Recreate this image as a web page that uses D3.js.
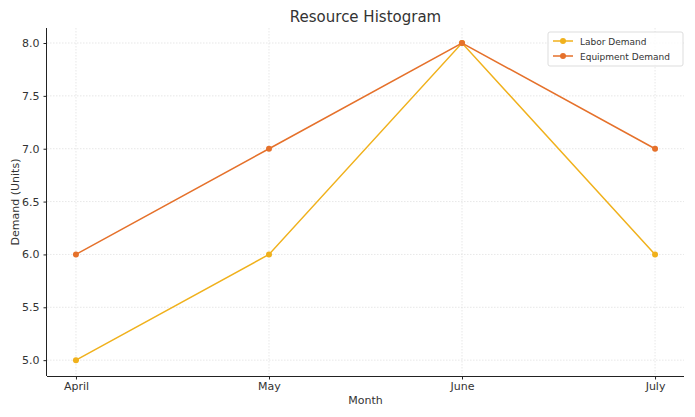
<!DOCTYPE html>
<html><head><meta charset="utf-8">
<script src="https://cdn.jsdelivr.net/npm/d3@7"></script>
<style>body{margin:0;background:#fff;font-family:"DejaVu Sans",sans-serif;}</style>
</head><body><svg id="c" width="695" height="417"></svg>
<script>
const months = ["April","May","June","July"];
const laborDemand = [5,6,8,6];
const equipmentDemand = [6,7,8,7];
const yTicks = [5.0,5.5,6.0,6.5,7.0,7.5,8.0];
const seriesNames = ["Labor Demand","Equipment Demand"];
const colors = ["#f0b11c","#e5712b"];

const svg = d3.select("#c");
const L=47,R=684,T=28,B=376;
const x = d3.scaleLinear().domain([-0.15,3.15]).range([L,R]);
const y = d3.scaleLinear().domain([4.85,8.142]).range([B,T]);
const txt="#333";

// grid
svg.append("g").selectAll("line").data(months).join("line")
  .attr("x1",(d,i)=>x(i)).attr("x2",(d,i)=>x(i)).attr("y1",T).attr("y2",B)
  .attr("stroke","#dcdcdc").attr("stroke-width",0.7).attr("stroke-dasharray","1.5,1.5");
svg.append("g").selectAll("line").data(yTicks).join("line")
  .attr("x1",L).attr("x2",R).attr("y1",d=>y(d)).attr("y2",d=>y(d))
  .attr("stroke","#dcdcdc").attr("stroke-width",0.7).attr("stroke-dasharray","1.5,1.5");

// axes
const xa = svg.append("g").attr("transform",`translate(0,${B})`)
  .call(d3.axisBottom(x).tickValues([0,1,2,3]).tickFormat(i=>months[i]).tickSize(3.5).tickPadding(3));
const ya = svg.append("g").attr("transform",`translate(${L},0)`)
  .call(d3.axisLeft(y).tickValues(yTicks).tickFormat(d3.format(".1f")).tickSize(3.5).tickPadding(4));
[xa,ya].forEach(a=>{
  a.select(".domain").attr("stroke","#222").attr("stroke-width",1);
  a.selectAll(".tick line").attr("stroke","#222");
  a.selectAll("text").attr("fill",txt).style("font-size","11px").style("font-family","DejaVu Sans");
});
xa.select(".domain").attr("d",`M${L},0.5H${R}`);
ya.select(".domain").attr("d",`M-0.5,${T}V${B}`);

// lines
const data=[laborDemand,equipmentDemand];
const line=d3.line().x((d,i)=>x(i)).y(d=>y(d));
data.forEach((s,k)=>{
  svg.append("path").datum(s).attr("d",line).attr("fill","none").attr("stroke",colors[k]).attr("stroke-width",1.5);
  svg.append("g").selectAll("circle").data(s).join("circle")
    .attr("cx",(d,i)=>x(i)).attr("cy",d=>y(d)).attr("r",3).attr("fill",colors[k]);
});

// titles
svg.append("text").attr("x",(L+R)/2).attr("y",22).attr("text-anchor","middle")
  .attr("fill",txt).style("font-size","15px").text("Resource Histogram");
svg.append("text").attr("x",(L+R)/2).attr("y",404).attr("text-anchor","middle")
  .attr("fill",txt).style("font-size","11px").text("Month");
svg.append("text").attr("transform",`translate(19,${(T+B)/2}) rotate(-90)`).attr("text-anchor","middle")
  .attr("fill",txt).style("font-size","11px").text("Demand (Units)");

// legend
const lg=svg.append("g").attr("transform","translate(548,32)");
lg.append("rect").attr("width",135).attr("height",34).attr("rx",2).attr("fill","#fff").attr("fill-opacity",0.8).attr("stroke","#ddd");
seriesNames.forEach((n,k)=>{
  const yy=9+k*15;
  lg.append("line").attr("x1",5).attr("x2",25).attr("y1",yy).attr("y2",yy).attr("stroke",colors[k]).attr("stroke-width",1.5);
  lg.append("circle").attr("cx",15).attr("cy",yy).attr("r",3).attr("fill",colors[k]);
  lg.append("text").attr("x",32).attr("y",yy+3.5).attr("fill",txt).style("font-size","9px").text(n);
});
</script></body></html>
